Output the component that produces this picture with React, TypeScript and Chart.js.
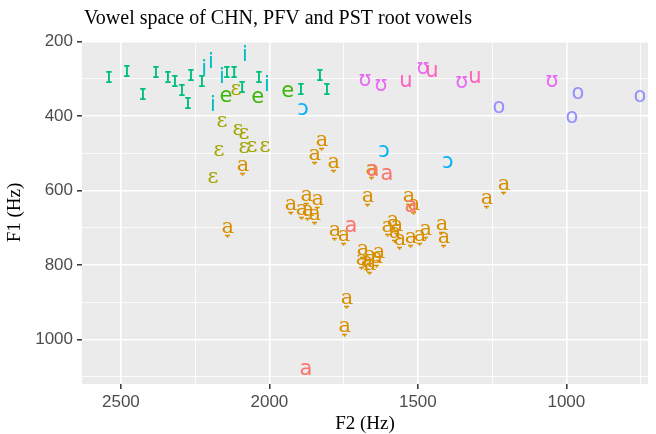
import React, { useEffect, useRef } from "react";
import { Chart, registerables } from "chart.js";

Chart.register(...registerables);

// ---- Data (F2 Hz, F1 Hz) per vowel label ----
const F2_SMALLCAP_I = [2540, 2480, 2426, 2382, 2342, 2318, 2295, 2274, 2264, 2227, 2143, 2119, 2092, 2035, 1894, 1830, 1806];
const F1_SMALLCAP_I = [295, 281, 343, 284, 295, 308, 332, 367, 292, 308, 284, 284, 324, 295, 329, 292, 329];

const F2_I = [2220, 2197, 2160, 2082, 2190, 2008];
const F1_I = [276, 257, 297, 238, 372, 319];

const F2_E = [2146, 2039, 1938];
const F1_E = [348, 351, 335];

const F2_EPS = [2113, 2160, 2106, 2086, 2086, 2059, 2015, 2170, 2190];
const F1_EPS = [329, 415, 437, 447, 485, 482, 482, 493, 565];

const F2_A_LOW = [2089, 1823, 1847, 1783, 1655, 1668, 1927, 1874, 1837, 1890, 1870, 1847, 1530, 1513, 2140, 1779, 1749, 1601, 1584, 1570, 1577, 1560, 1523, 1493, 1473, 1419, 1412, 1685, 1688, 1661, 1661, 1631, 1638, 1671, 1267, 1210, 1739, 1746];
const F1_A_LOW = [533, 466, 504, 525, 544, 616, 638, 614, 624, 651, 654, 665, 616, 638, 699, 708, 721, 697, 681, 694, 713, 732, 726, 721, 705, 691, 726, 758, 785, 774, 799, 767, 780, 791, 622, 584, 890, 965];

const F2_A = [1651, 1604, 1725, 1523, 1877];
const F1_A = [547, 557, 697, 643, 1080];

const F2_OPEN_O = [1887, 1614, 1399];
const F1_OPEN_O = [383, 496, 525];

const F2_O = [1227, 961, 981, 752];
const F1_O = [378, 340, 405, 346];

const F2_UPS = [1678, 1624, 1483, 1352, 1048];
const F1_UPS = [303, 319, 271, 311, 308];

const F2_U = [1540, 1453, 1308];
const F1_U = [308, 279, 295];

const X_TICKS = [750, 1000, 1250, 1500, 1750, 2000, 2250, 2500];
const Y_TICKS = [200, 300, 400, 500, 600, 700, 800, 900, 1000, 1100];

const TITLE = "Vowel space of CHN, PFV and PST root vowels";
const X_TITLE = "F2 (Hz)";
const Y_TITLE = "F1 (Hz)";

type Group = { glyph: string; color: string; font: string; f2: number[]; f1: number[] };

const SANS = "21px 'DejaVu Sans'";
const SERIF = "21px 'DejaVu Serif'";

const GROUPS: Group[] = [
  { glyph: "ɪ", color: "#00BF7D", font: SANS, f2: F2_SMALLCAP_I, f1: F1_SMALLCAP_I },
  { glyph: "i", color: "#00BFC4", font: SANS, f2: F2_I, f1: F1_I },
  { glyph: "e", color: "#39B600", font: SANS, f2: F2_E, f1: F1_E },
  { glyph: "ɛ", color: "#A3A500", font: SERIF, f2: F2_EPS, f1: F1_EPS },
  { glyph: "a\u031E", color: "#D89000", font: SERIF, f2: F2_A_LOW, f1: F1_A_LOW },
  { glyph: "a", color: "#F8766D", font: SANS, f2: F2_A, f1: F1_A },
  { glyph: "ɔ", color: "#00B0F6", font: SANS, f2: F2_OPEN_O, f1: F1_OPEN_O },
  { glyph: "o", color: "#9590FF", font: SANS, f2: F2_O, f1: F1_O },
  { glyph: "ʊ", color: "#E76BF3", font: SANS, f2: F2_UPS, f1: F1_UPS },
  { glyph: "u", color: "#FF62BC", font: SANS, f2: F2_U, f1: F1_U },
];

const panelPlugin = {
  id: "panelBg",
  beforeDraw(chart: any) {
    const { ctx, chartArea, width, height } = chart;
    ctx.save();
    ctx.fillStyle = "#FFFFFF";
    ctx.fillRect(0, 0, width, height);
    ctx.fillStyle = "#EBEBEB";
    ctx.fillRect(chartArea.left, chartArea.top, chartArea.right - chartArea.left, chartArea.bottom - chartArea.top);
    ctx.restore();
  },
};

const textPointsPlugin = {
  id: "textPoints",
  afterDatasetsDraw(chart: any) {
    const { ctx, chartArea } = chart;
    ctx.save();
    ctx.beginPath();
    ctx.rect(chartArea.left, chartArea.top, chartArea.right - chartArea.left, chartArea.bottom - chartArea.top);
    ctx.clip();
    ctx.textAlign = "center";
    ctx.textBaseline = "middle";
    chart.data.datasets.forEach((ds: any, i: number) => {
      const meta = chart.getDatasetMeta(i);
      ctx.fillStyle = ds.textColor;
      ctx.font = ds.textFont;
      meta.data.forEach((el: any) => {
        ctx.fillText(ds.glyph, el.x, el.y);
      });
    });
    ctx.restore();
  },
};

const titlesPlugin = {
  id: "titles",
  afterDraw(chart: any) {
    const { ctx, chartArea } = chart;
    ctx.save();
    ctx.fillStyle = "#000000";
    ctx.font = "20px 'Liberation Serif'";
    ctx.textAlign = "left";
    ctx.textBaseline = "alphabetic";
    ctx.fillText(TITLE, 84, 24);
    ctx.font = "19px 'Liberation Serif'";
    ctx.textAlign = "center";
    ctx.textBaseline = "middle";
    ctx.fillText(X_TITLE, (chartArea.left + chartArea.right) / 2, 424);
    ctx.translate(15, (chartArea.top + chartArea.bottom) / 2);
    ctx.rotate(-Math.PI / 2);
    ctx.fillText(Y_TITLE, 0, 0);
    ctx.restore();
  },
};

export default function App() {
  const ref = useRef<HTMLCanvasElement | null>(null);
  useEffect(() => {
    if (!ref.current) return;
    const isMajorX = (v: number) => v % 500 === 0;
    const isMajorY = (v: number) => v % 200 === 0;
    const chart = new Chart(ref.current, {
      type: "scatter",
      data: {
        datasets: GROUPS.map((g) => ({
          label: g.glyph,
          glyph: g.glyph,
          textColor: g.color,
          textFont: g.font,
          data: g.f2.map((x, k) => ({ x, y: g.f1[k] })),
          pointRadius: 0,
          pointHoverRadius: 0,
        })) as any,
      },
      options: {
        responsive: false,
        devicePixelRatio: 1,
        animation: false,
        events: [],
        layout: { padding: { left: 0, top: 41, right: 8, bottom: 0 } },
        plugins: { legend: { display: false }, tooltip: { enabled: false }, title: { display: false } },
        scales: {
          x: {
            type: "linear",
            reverse: true,
            min: 725,
            max: 2631,
            afterBuildTicks: (scale: any) => {
              scale.ticks = X_TICKS.map((value) => ({ value }));
            },
            afterFit: (scale: any) => {
              scale.height = 50;
            },
            border: { display: false },
            grid: {
              color: "#FFFFFF",
              lineWidth: (c: any) => (isMajorX(c.tick.value) ? 1.6 : 0.8),
              tickColor: (c: any) => (isMajorX(c.tick.value) ? "#333333" : "rgba(0,0,0,0)"),
              tickLength: 5,
              tickWidth: 1.5,
            },
            ticks: {
              autoSkip: false,
              maxRotation: 0,
              padding: 3,
              color: "#4D4D4D",
              font: { family: "'Liberation Sans'", size: 17 },
              callback: (v: any) => (isMajorX(Number(v)) ? String(v) : ""),
            },
          },
          y: {
            type: "linear",
            reverse: true,
            min: 198,
            max: 1120,
            afterBuildTicks: (scale: any) => {
              scale.ticks = Y_TICKS.map((value) => ({ value }));
            },
            afterFit: (scale: any) => {
              scale.width = 82;
            },
            border: { display: false },
            grid: {
              color: "#FFFFFF",
              lineWidth: (c: any) => (isMajorY(c.tick.value) ? 1.6 : 0.8),
              tickColor: (c: any) => (isMajorY(c.tick.value) ? "#333333" : "rgba(0,0,0,0)"),
              tickLength: 5,
              tickWidth: 1.5,
            },
            ticks: {
              autoSkip: false,
              padding: 4,
              color: "#4D4D4D",
              font: { family: "'Liberation Sans'", size: 17 },
              callback: (v: any) => (isMajorY(Number(v)) ? String(v) : ""),
            },
          },
        },
      } as any,
      plugins: [panelPlugin, textPointsPlugin, titlesPlugin],
    });
    return () => chart.destroy();
  }, []);
  return (
    <div style={{ position: "absolute", left: 0, top: 0, width: 656, height: 434 }}>
      <canvas ref={ref} width={656} height={434} style={{ display: "block" }} />
    </div>
  );
}
